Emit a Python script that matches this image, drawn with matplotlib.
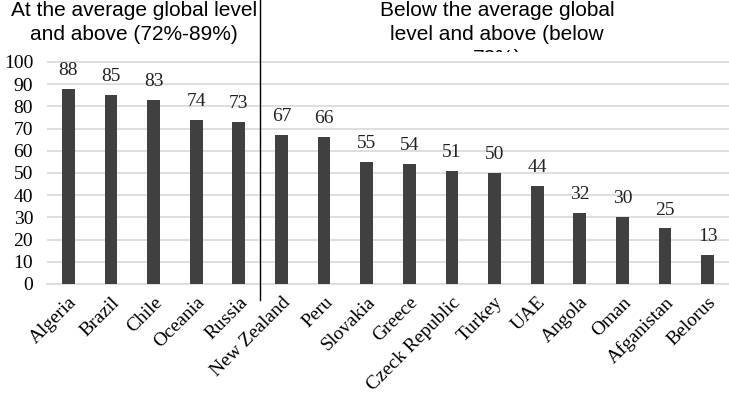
import matplotlib
matplotlib.use("Agg")
import matplotlib.pyplot as plt
import numpy as np

countries = ["Algeria", "Brazil", "Chile", "Oceania", "Russia", "New Zealand",
             "Peru", "Slovakia", "Greece", "Czeck Republic", "Turkey", "UAE",
             "Angola", "Oman", "Afganistan", "Belorus"]
values = [88, 85, 83, 74, 73, 67, 66, 55, 54, 51, 50, 44, 32, 30, 25, 13]
yticks = list(range(0, 101, 10))
group_left = "At the average global level\nand above (72%-89%)"
group_right = "Below the average global\nlevel and above (below\n72%)"

serif = "Liberation Serif"
sans = "Liberation Sans"

fig = plt.figure(figsize=(7.29, 4), dpi=100)
ax = fig.add_axes([47 / 729, 1 - 284 / 400, 1 - 47 / 729, 232 / 400])
ax.set_facecolor("white")

x = np.arange(len(countries))
ax.bar(x, values, width=0.3, color="#404040", zorder=3)
for xi, v in zip(x, values):
    ax.text(xi, v + 4.5, str(v), ha="center", va="bottom", family=serif,
            fontsize=14, color="#222222")

ax.set_xlim(-0.5, len(countries) - 0.5)
ax.set_ylim(0, 104.5)
ax.set_yticks(yticks)
ax.set_yticklabels([str(t) for t in yticks], family=serif, fontsize=14)
ax.yaxis.grid(True, color="#d9d9d9", linewidth=1.2, zorder=0)
ax.set_xticks(x)
ax.set_xticklabels(countries, rotation=45, ha="right", rotation_mode="anchor",
                   family=serif, fontsize=14)
ax.tick_params(axis="y", length=0, pad=10)
ax.tick_params(axis="x", length=0, pad=7)
for s in ["top", "right", "left"]:
    ax.spines[s].set_visible(False)
ax.spines["bottom"].set_color("#d9d9d9")
ax.spines["bottom"].set_linewidth(1.2)

# divider between the two groups
ax.plot([4.5, 4.5], [-0.07, 1.23], color="black", linewidth=1,
        transform=ax.get_xaxis_transform(), clip_on=False, zorder=5)

# group headers (drawn under the axes so the last line gets hidden)
fig.text(134 / 729, 1 - 1 / 400, group_left, ha="center", va="top",
         family=sans, fontsize=15, linespacing=1.33, zorder=-1)
fig.text(497 / 729, 1 - 1 / 400, group_right, ha="center", va="top",
         family=sans, fontsize=15, linespacing=1.33, zorder=-1)

fig.savefig("out.png", dpi=100, facecolor="white")
